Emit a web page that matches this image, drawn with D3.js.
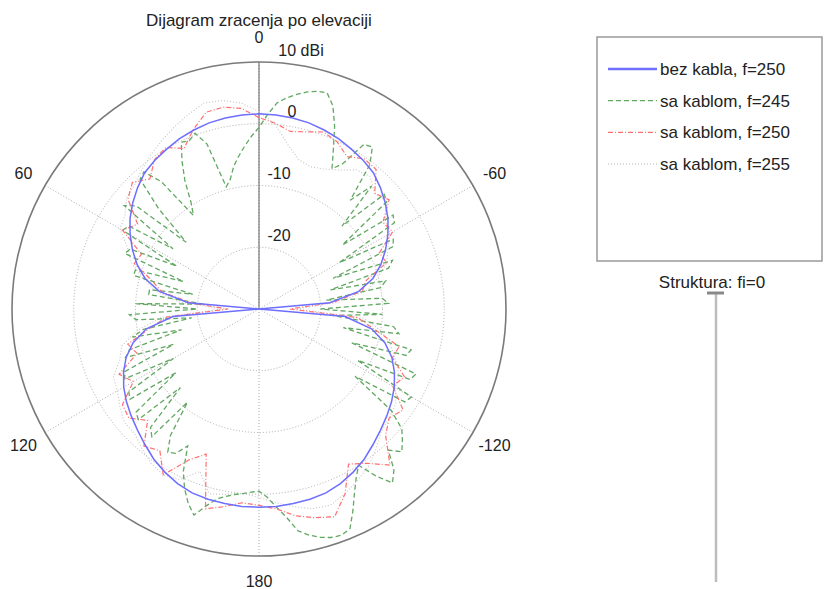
<!DOCTYPE html>
<html>
<head>
<meta charset="utf-8">
<script src="https://cdn.jsdelivr.net/npm/d3@7"></script>
<style>
  body { margin: 0; background: #fff; }
  svg { font-family: Arial, "Liberation Sans", sans-serif; fill: #222; }
</style>
</head>
<body>
<svg id="chart" width="826" height="589"></svg>
<script>
// angle grid, degrees, 0 = up, counterclockwise positive (60 on the left)
var angles5 = d3.range(0, 360, 5);
var angles25 = d3.range(0, 360, 2.5);

var ringTicks = [-20, -10, 0, 10];
var ringLabels = ["-20", "-10", "0", "10 dBi"];
var spokeAngles = [0, 60, 120, 180, 240, 300];
var spokeLabels = ["0", "60", "120", "180", "-120", "-60"];

// bez kabla, f=250
var bezKabla250 = [
  1.6, 1.55, 1.4, 1.2, 0.85, 0.45, -0.1, -0.6, -1.2, -2.2, -3.3, -4.5, -5.9, -7.4, -9.0, -10.9, -13.6, -18.5,
  -30,
  -16, -11.5, -8.9, -7.1, -5.8, -4.7, -3.8, -3.0, -2.2, -1.3, -0.3, 0.5, 1.2, 1.7, 1.9, 2.0, 2.1,
  2.1,
  2.1, 2.0, 1.9, 1.7, 1.2, 0.5, -0.3, -1.3, -2.2, -3.0, -3.8, -4.7, -5.8, -7.1, -8.9, -11.5, -16,
  -30,
  -18.5, -13.6, -10.9, -9.0, -7.4, -5.9, -4.5, -3.3, -2.2, -1.2, -0.6, -0.1, 0.45, 0.85, 1.2, 1.4, 1.55
];

// sa kablom, f=245 (2.5 deg grid)
var saKablom245 = [
  -0.6, -2, -3.5, -5, -6.5, -8.5, -9.5, -2, 0.3, -0.5, -0.2, -3, -6, -9.5, -11.5, -4, -1, -1.5,
  -7, -14, -4, -2.5, -13, -5, -4.5, -15, -7, -6.5, -17, -9, -9, -19, -12, -12, -21, -10,
  -20, -9, -10, -19, -11, -9, -17, -8, -7, -15, -6, -5.5, -14, -5, -4.5, -13, -4, -3.5,
  -12, -4, -3, -11, -5, -2.5, -3, -5, -1, 1.5, 3.5, 5, 3, 1.5, 0.8, 0.3, 0, -0.3,
  -0.5, 0.5, 2.2, 4, 6.5, 7.5, 8.3, 8.8, 9.0, 8.5, 6, 3.5, 1.5, 0, 3, 5.5, 4, 1,
  2.7, 1.5, 0.2, -3, -11, -2, -1.5, -12, -3, -2.5, -14, -5, -4.5, -16, -7, -8, -18, -10,
  -20, -9, -10, -19, -10, -9, -18, -8, -7, -17, -6, -5.5, -15, -4, -3.5, -13, -3, -2.5,
  -11, -3, -7, -0.5, 2, 1.6, -2.8, -4.4, -1.5, 2, 5, 6.7, 6.5, 6, 5.3, 4.5, 3.5, 1.5
];

// sa kablom, f=250
var saKablom250 = [
  1.0, 2.6, 3.2, 3.0, 1.0, -1.3, 0.2, -0.5, -2.5, -1.0, -2.3, -6, -4.5, -9, -8.5, -12, -14, -19,
  -25, -15, -12, -8, -9, -5, -6.5, -3, -2.5, -4.5, -1, -2, 1, -3, -5, 3.5, 2.5, 1.5,
  1.8, 2.5, 4.0, 5.0, 5.8, 3.0, -1, 0.5, 3.0, -1, -2.5, -1.5, -5, -4, -7, -6.5, -11, -14,
  -25, -18, -13, -12, -8, -8.5, -5, -5.5, -2.5, -3.5, -0.5, -0.3, -1.5, -0.1, 0.5, -0.3, -0.8, 0.2
];

// sa kablom, f=255
var saKablom255 = [
  2.0, 3.5, 4.3, 4.5, 3.5, 2.5, 1.5, 0.5, -0.5, -1.5, -2.0, -3.5, -4.0, -6.5, -8, -10.5, -13, -17,
  -24, -14, -10, -7, -6, -4, -3.5, -2.5, -1.5, -1.5, -0.5, 0.5, 1.0, 0.5, -2, 1, 0.5, 0,
  0.5, 1.5, 2.5, 3.5, 3.8, 3.0, 2.0, 1.0, -0.5, -2, -2.5, -3, -4.5, -5, -6.5, -8, -10, -13,
  -24, -17, -12, -10, -8, -7, -5.5, -5, -3, -3.5, -2, -2.5, -4, -5, -5.5, -5, -3, 0
];

var legendNames = ["bez kabla, f=250", "sa kablom, f=245", "sa kablom, f=250", "sa kablom, f=255"];

var series = [
  { name: legendNames[3], ang: angles5, val: saKablom255, color: "#c9c9c9", width: 1.2, dash: "1,2" },
  { name: legendNames[1], ang: angles25, val: saKablom245, color: "#62a862", width: 1.3, dash: "5,3" },
  { name: legendNames[2], ang: angles5, val: saKablom250, color: "#ff7070", width: 1.2, dash: "5,2,1,2" },
  { name: legendNames[0], ang: angles5, val: bezKabla250, color: "#6e6eff", width: 1.5, dash: null }
];

var cx = 259, cy = 309, R = 247;
var svg = d3.select("#chart");
var r = d3.scaleLinear().domain([-30, 10]).range([0, R]).clamp(true);
var rad = function(a) { return -a * Math.PI / 180; };

// title
svg.append("text").attr("x", cx).attr("y", 26).attr("text-anchor", "middle")
  .style("font-size", "17px").text("Dijagram zracenja po elevaciji");

var g = svg.append("g").attr("transform", "translate(" + cx + "," + cy + ")");

// rings
g.selectAll(".ring").data(ringTicks.slice(0, 3)).enter().append("circle")
  .attr("class", "ring").attr("r", function(d) { return r(d); })
  .attr("fill", "none").attr("stroke", "#aaa").attr("stroke-width", 1).attr("stroke-dasharray", "1,2");

// spokes
g.selectAll(".spoke").data(spokeAngles).enter().append("line")
  .attr("class", "spoke")
  .attr("x1", 0).attr("y1", 0)
  .attr("x2", function(d) { return R * Math.sin(rad(d)); })
  .attr("y2", function(d) { return -R * Math.cos(rad(d)); })
  .attr("stroke", "#aaa").attr("stroke-width", 1).attr("stroke-dasharray", "1,2");

// solid axis line up
g.append("line").attr("x1", 0).attr("y1", 0).attr("x2", 0).attr("y2", -R)
  .attr("stroke", "#777").attr("stroke-width", 1.2);

// outer circle
g.append("circle").attr("r", R).attr("fill", "none").attr("stroke", "#7a7a7a").attr("stroke-width", 1.6);

// spoke labels
g.selectAll(".alabel").data(spokeAngles).enter().append("text")
  .attr("class", "alabel")
  .attr("x", function(d) { return (R + 25) * Math.sin(rad(d)); })
  .attr("y", function(d) { return -(R + 25) * Math.cos(rad(d)); })
  .attr("dy", "0.35em").attr("text-anchor", "middle")
  .style("font-size", "16px")
  .text(function(d, i) { return spokeLabels[i]; });

// ring labels
var ringDx = [20, 20, 33, 42];
g.selectAll(".rlabel").data(ringTicks).enter().append("text")
  .attr("class", "rlabel")
  .attr("x", function(d, i) { return ringDx[i]; })
  .attr("y", function(d) { return -r(d) - 12; })
  .attr("dy", "0.35em").attr("text-anchor", "middle")
  .style("font-size", "16px")
  .text(function(d, i) { return ringLabels[i]; });

// pattern curves
var line = d3.lineRadial().curve(d3.curveLinearClosed);
series.forEach(function(s) {
  var pts = s.val.map(function(v, i) { return [rad(s.ang[i]), r(v)]; });
  var p = g.append("path").attr("d", line(pts))
    .attr("fill", "none").attr("stroke", s.color).attr("stroke-width", s.width);
  if (s.dash) p.attr("stroke-dasharray", s.dash);
});

// legend
var leg = svg.append("g");
leg.append("rect").attr("x", 597).attr("y", 37).attr("width", 225).attr("height", 224)
  .attr("fill", "#fff").attr("stroke", "#999").attr("stroke-width", 1.5);
var order = [3, 1, 2, 0];
var ly = d3.scalePoint().domain(legendNames).range([69, 164]);
legendNames.forEach(function(name, i) {
  var s = series[order[i]];
  var l = leg.append("line").attr("x1", 608).attr("x2", 657)
    .attr("y1", ly(name)).attr("y2", ly(name))
    .attr("stroke", s.color).attr("stroke-width", s.dash ? 1.3 : 2.5);
  if (s.dash) l.attr("stroke-dasharray", s.dash);
  leg.append("text").attr("x", 660).attr("y", ly(name)).attr("dy", "0.35em")
    .style("font-size", "17px").text(name);
});

// structure
svg.append("text").attr("x", 712).attr("y", 282).attr("dy", "0.35em").attr("text-anchor", "middle")
  .style("font-size", "17px").text("Struktura: fi=0");
svg.append("line").attr("x1", 716).attr("x2", 716).attr("y1", 293).attr("y2", 582)
  .attr("stroke", "#bdbdbd").attr("stroke-width", 2.5);
svg.append("line").attr("x1", 707).attr("x2", 724).attr("y1", 293).attr("y2", 293)
  .attr("stroke", "#888").attr("stroke-width", 3);
</script>
</body>
</html>
